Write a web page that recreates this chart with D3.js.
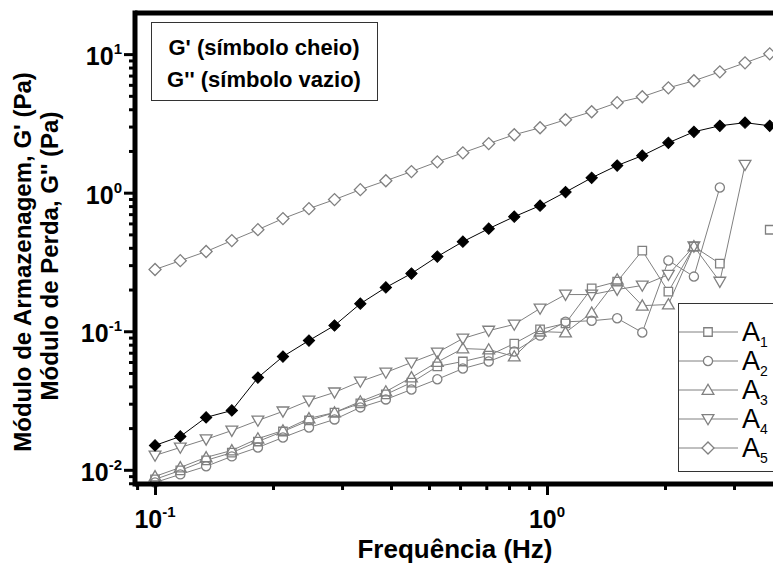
<!DOCTYPE html>
<html>
<head>
<meta charset="utf-8">
<script src="https://cdn.jsdelivr.net/npm/d3@7/dist/d3.min.js"></script>
<style>
	body { margin: 0; background: #fff; }
	text { font-family: "Liberation Sans", Arial, sans-serif; }
</style>
</head>
<body>
<div id="chart"></div>
<script>

// frequencies (Hz)
var freq = [0.1, 0.116, 0.135, 0.157, 0.183, 0.212, 0.247, 0.287, 0.334, 0.388,
	0.451, 0.525, 0.61, 0.71, 0.825, 0.96, 1.115, 1.3, 1.51, 1.75,
	2.04, 2.37, 2.76, 3.2, 3.7];

// G' (filled symbol)
var gStorage = [0.0150, 0.0174, 0.0239, 0.0268, 0.0463, 0.0657, 0.0857, 0.110, 0.158, 0.207,
	0.261, 0.346, 0.443, 0.550, 0.671, 0.806, 1.01, 1.28, 1.57, 1.85,
	2.29, 2.75, 3.04, 3.20, 3.04];

// G'' (open symbols)
var a1 = [0.00853, 0.0099, 0.0117, 0.0133, 0.016, 0.0189, 0.0227, 0.0259, 0.0302, 0.035,
	0.0426, 0.0557, 0.0605, 0.0668, 0.0815, 0.103, 0.114, 0.204, 0.228, 0.382,
	0.193, 0.408, 0.308, null, 0.54];
var a2 = [0.0081, 0.00927, 0.0106, 0.0125, 0.0145, 0.0171, 0.0202, 0.0231, 0.0282, 0.0322,
	0.038, 0.045, 0.0538, 0.0605, 0.0714, 0.093, 0.117, 0.119, 0.124, 0.098,
	0.324, 0.248, 1.09, null, null];
var a3 = [0.00896, 0.0104, 0.0123, 0.0138, 0.0168, 0.0192, 0.0235, 0.0259, 0.0311, 0.0367,
	0.0464, 0.060, 0.075, 0.0738, 0.0657, 0.0994, 0.098, 0.136, 0.236, 0.153,
	0.156, 0.41, null, null, null];
var a4 = [0.0127, 0.0145, 0.0166, 0.0192, 0.0227, 0.0264, 0.0316, 0.0362, 0.0434, 0.0504,
	0.0595, 0.0702, 0.0886, 0.101, 0.112, 0.146, 0.184, 0.184, 0.2, 0.214,
	0.256, 0.41, 0.228, 1.59, null];
var a5 = [0.279, 0.323, 0.376, 0.451, 0.541, 0.650, 0.767, 0.891, 1.052, 1.22,
	1.42, 1.67, 1.94, 2.26, 2.62, 2.94, 3.36, 3.84, 4.46, 4.92,
	5.71, 6.42, 7.45, 8.65, 10.05];

var seriesNames = ["1", "2", "3", "4", "5"];
var seriesSymbols = ["square", "circle", "up", "down", "diamond"];

var xMajor = [0.1, 1];
var xMinor = [0.09, 0.2, 0.3, 0.4, 0.5, 0.6, 0.7, 0.8, 0.9, 2, 3, 4];
var yMajor = [0.01, 0.1, 1, 10];
var yMinor = [0.008, 0.009, 0.02, 0.03, 0.04, 0.05, 0.06, 0.07, 0.08, 0.09,
	0.2, 0.3, 0.4, 0.5, 0.6, 0.7, 0.8, 0.9, 2, 3, 4, 5, 6, 7, 8, 9];

var boxLines = ["G' (símbolo cheio)", "G'' (símbolo vazio)"];

var W = 773, H = 567;
var mLeft = 135, mTop = 13, mBottom = 484, mRight = 800;
var grey = "#808080";

var svg = d3.select("#chart")
	.append("svg")
	.attr("width", W)
	.attr("height", H);

var x = d3.scaleLog().domain([0.0889, 4.42]).range([mLeft, mRight]);
var y = d3.scaleLog().domain([0.0079, 19.8]).range([mBottom, mTop]);

// symbol path generator
function symbolPath(kind, size) {
	var s;
	if (kind == "square" || kind == "diamond") {
		s = d3.symbol().type(d3.symbolSquare).size(size || 72);
	} else if (kind == "circle") {
		s = d3.symbol().type(d3.symbolCircle).size(size || 66);
	} else {
		s = d3.symbol().type(d3.symbolTriangle).size(size || 60);
	}
	return s();
}

function symbolTransform(kind, px, py) {
	if (kind == "diamond") return "translate(" + px + "," + py + ") rotate(45)";
	if (kind == "down") return "translate(" + px + "," + (py - 1) + ") rotate(180)";
	if (kind == "up") return "translate(" + px + "," + (py + 1) + ")";
	return "translate(" + px + "," + py + ")";
}

var plot = svg.append("g");

var line = d3.line()
	.defined(function(d) { return d[1] != null; })
	.x(function(d) { return x(d[0]); })
	.y(function(d) { return y(d[1]); });

var openSeries = [a1, a2, a3, a4, a5];

// lines first
openSeries.forEach(function(vals) {
	var pts = freq.map(function(f, i) { return [f, vals[i]]; });
	plot.append("path")
		.attr("d", line(pts))
		.attr("fill", "none")
		.attr("stroke", grey)
		.attr("stroke-width", 1);
});

var gPts = freq.map(function(f, i) { return [f, gStorage[i]]; });
plot.append("path")
	.attr("d", line(gPts))
	.attr("fill", "none")
	.attr("stroke", "#000")
	.attr("stroke-width", 1);

// white backs of open symbols, then outlines
["fill", "stroke"].forEach(function(pass) {
	openSeries.forEach(function(vals, k) {
		var kind = seriesSymbols[k];
		var pts = freq.map(function(f, i) { return [f, vals[i]]; })
			.filter(function(d) { return d[1] != null; });
		plot.append("g").selectAll("path")
			.data(pts)
			.enter().append("path")
			.attr("d", symbolPath(kind))
			.attr("transform", function(d) { return symbolTransform(kind, x(d[0]), y(d[1])); })
			.attr("fill", pass == "fill" ? "#fff" : "none")
			.attr("stroke", pass == "fill" ? "none" : grey)
			.attr("stroke-width", 1.3);
	});
});

plot.append("g").selectAll("path")
	.data(gPts)
	.enter().append("path")
	.attr("d", symbolPath("diamond", 64))
	.attr("transform", function(d) { return symbolTransform("diamond", x(d[0]), y(d[1])); })
	.attr("fill", "#000")
	.attr("stroke", "#000")
	.attr("stroke-width", 1);

// axes
function styleAxis(g) {
	g.select(".domain").remove();
	g.selectAll(".tick line").attr("stroke", "#000").attr("stroke-width", 3);
	g.selectAll(".tick text").remove();
}

svg.append("g")
	.attr("transform", "translate(0," + mBottom + ")")
	.call(d3.axisBottom(x).tickValues(xMajor).tickSize(11).tickFormat(""))
	.call(styleAxis);
svg.append("g")
	.attr("transform", "translate(0," + mBottom + ")")
	.call(d3.axisBottom(x).tickValues(xMinor).tickSize(6).tickFormat(""))
	.call(styleAxis);
svg.append("g")
	.attr("transform", "translate(" + mLeft + ",0)")
	.call(d3.axisLeft(y).tickValues(yMajor).tickSize(11).tickFormat(""))
	.call(styleAxis);
svg.append("g")
	.attr("transform", "translate(" + mLeft + ",0)")
	.call(d3.axisLeft(y).tickValues(yMinor).tickSize(6).tickFormat(""))
	.call(styleAxis);

// frame
svg.append("line")
	.attr("x1", mLeft).attr("y1", mTop)
	.attr("x2", W).attr("y2", mTop)
	.attr("stroke", "#000").attr("stroke-width", 5);
svg.append("line")
	.attr("x1", mLeft).attr("y1", mTop - 2.5)
	.attr("x2", mLeft).attr("y2", mBottom + 2.5)
	.attr("stroke", "#000").attr("stroke-width", 5);
svg.append("line")
	.attr("x1", mLeft).attr("y1", mBottom)
	.attr("x2", W).attr("y2", mBottom)
	.attr("stroke", "#000").attr("stroke-width", 5);

// tick labels (10^n)
function powerLabel(g, v, px, py, anchor) {
	var e = Math.round(Math.log10(v));
	var t = g.append("text")
		.attr("x", px)
		.attr("y", py)
		.attr("text-anchor", anchor)
		.attr("font-size", 25)
		.attr("font-weight", "bold");
	t.append("tspan").text("10");
	t.append("tspan")
		.attr("font-size", 15)
		.attr("dy", -11)
		.text(e == 0 ? "0" : e);
}

xMajor.forEach(function(v) {
	powerLabel(svg, v, x(v), 528, "middle");
});
yMajor.forEach(function(v) {
	powerLabel(svg, v, 122, y(v) + 11, "end");
});

// axis titles
svg.append("text")
	.attr("x", 455)
	.attr("y", 558)
	.attr("text-anchor", "middle")
	.attr("font-size", 26)
	.attr("font-weight", "bold")
	.text("Frequência (Hz)");

svg.append("text")
	.attr("transform", "translate(31,262) rotate(-90)")
	.attr("text-anchor", "middle")
	.attr("font-size", 24)
	.attr("font-weight", "bold")
	.text("Módulo de Armazenagem, G' (Pa)");
svg.append("text")
	.attr("transform", "translate(58,256) rotate(-90)")
	.attr("text-anchor", "middle")
	.attr("font-size", 24)
	.attr("font-weight", "bold")
	.text("Módulo de Perda, G'' (Pa)");

// note box
svg.append("rect")
	.attr("x", 151.5).attr("y", 22.5)
	.attr("width", 226).attr("height", 78)
	.attr("fill", "#fff")
	.attr("stroke", "#333")
	.attr("stroke-width", 1);
boxLines.forEach(function(s, i) {
	svg.append("text")
		.attr("x", 264)
		.attr("y", 55 + i * 32)
		.attr("text-anchor", "middle")
		.attr("font-size", 22)
		.attr("font-weight", "bold")
		.text(s);
});

// series legend
var leg = svg.append("g");
leg.append("rect")
	.attr("x", 678.5).attr("y", 303.5)
	.attr("width", 130).attr("height", 168)
	.attr("fill", "#fff")
	.attr("stroke", "#333")
	.attr("stroke-width", 1);

seriesNames.forEach(function(n, i) {
	var ly = 332 + i * 29;
	var kind = seriesSymbols[i];
	leg.append("line")
		.attr("x1", 679).attr("y1", ly)
		.attr("x2", 738).attr("y2", ly)
		.attr("stroke", grey)
		.attr("stroke-width", 1);
	leg.append("path")
		.attr("d", symbolPath(kind))
		.attr("transform", symbolTransform(kind, 708, ly))
		.attr("fill", "#fff")
		.attr("stroke", grey)
		.attr("stroke-width", 1.3);
	var t = leg.append("text")
		.attr("x", 742)
		.attr("y", ly + 9)
		.attr("font-size", 27);
	t.append("tspan").text("A");
	t.append("tspan")
		.attr("font-size", 14)
		.attr("dy", 6)
		.text(n);
});

</script>
</body>
</html>
